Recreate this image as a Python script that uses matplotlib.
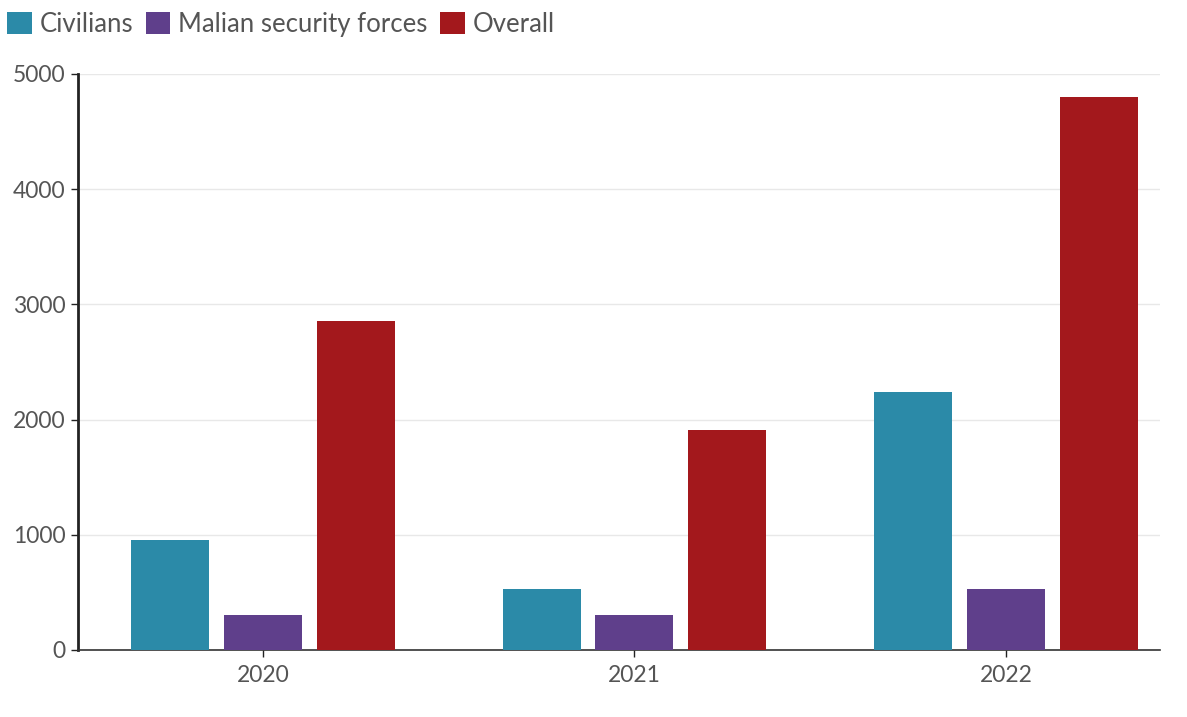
import matplotlib
matplotlib.use("Agg")
import matplotlib.pyplot as plt
import numpy as np
from matplotlib.patches import Patch

years = ["2020", "2021", "2022"]
series_names = ["Civilians", "Malian security forces", "Overall"]
civilians = [955, 530, 2240]
malian_forces = [300, 305, 530]
overall = [2855, 1910, 4800]
colors = ["#2b8aa8", "#5f3f8b", "#a3181c"]
yticks = [0, 1000, 2000, 3000, 4000, 5000]

plt.rcParams['font.family'] = ['Lato', 'DejaVu Sans']

fig = plt.figure(figsize=(11.87, 7.17), dpi=100)
ax = fig.add_axes([78/1187, 1-650/717, (1160-78)/1187, (650-74)/717])

x = np.arange(len(years))
width = 0.21
step = 0.25
for i, (vals, c) in enumerate(zip([civilians, malian_forces, overall], colors)):
    ax.bar(x + (i-1)*step, vals, width, color=c, zorder=3)

ax.set_xlim(-0.498, 2.415)
ax.set_ylim(0, 5000)
ax.set_yticks(yticks)
ax.set_yticklabels([str(t) for t in yticks])
ax.set_xticks(x)
ax.set_xticklabels(years)
ax.yaxis.grid(True, color="#e8e8e8", linewidth=1, zorder=0)
ax.tick_params(axis='both', colors="#555555", labelsize=16.5, length=5, width=1)
ax.tick_params(axis='y', color="#222222", pad=4)
ax.tick_params(axis='x', color="#222222", pad=6)
for s in ["top", "right"]:
    ax.spines[s].set_visible(False)
ax.spines["left"].set_color("#222222")
ax.spines["left"].set_linewidth(2)
ax.spines["bottom"].set_color("#333333")
ax.spines["bottom"].set_linewidth(1.2)

handles = [Patch(facecolor=c, edgecolor='none') for c in colors]
fig.legend(handles, series_names, loc="upper left", bbox_to_anchor=(-0.009, 1.009),
           ncol=3, frameon=False, fontsize=18.5, labelcolor="#555555",
           handlelength=0.95, handleheight=0.95, handletextpad=0.3,
           columnspacing=0.5, borderaxespad=0.3)

fig.savefig("out.png", dpi=100, facecolor="white")
